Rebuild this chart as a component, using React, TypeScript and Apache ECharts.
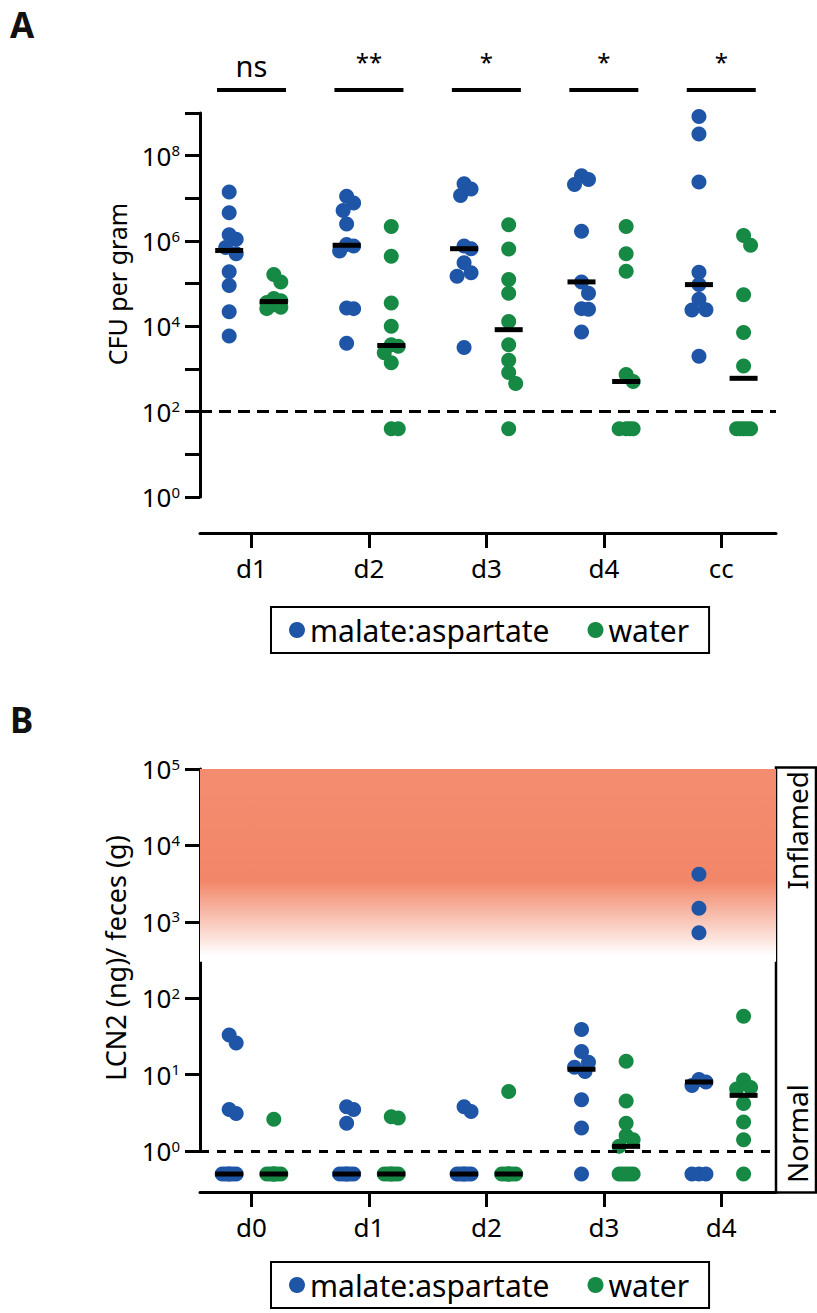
import React, { useEffect, useRef } from 'react';
import * as echarts from 'echarts';

// ---------- data ----------
const GROUPS_A = ['d1', 'd2', 'd3', 'd4', 'cc'];
const SIG_A = ['ns', '**', '*', '*', '*'];
// CFU per gram, malate:aspartate (40 = below detection)
const A_MALATE = [
  [1.4e7, 4.6e6, 1.4e6, 1.1e6, 7.0e5, 5.0e5, 1.9e5, 9.1e4, 2.2e4, 5.9e3],
  [1.12e7, 7.8e6, 5.2e6, 2.5e6, 8.3e5, 7.6e5, 5.8e5, 2.7e4, 2.6e4, 4.0e3],
  [2.2e7, 1.66e7, 1.17e7, 7.6e5, 6.6e5, 3.1e5, 1.8e5, 1.5e5, 3.2e3],
  [3.4e7, 2.75e7, 2.1e7, 1.7e6, 1.1e5, 6.0e4, 2.6e4, 2.5e4, 7.4e3],
  [8.3e8, 3.2e8, 2.4e7, 1.86e5, 9.5e4, 4.3e4, 2.45e4, 2.4e4, 2.0e3],
];
const A_WATER = [
  [1.65e5, 1.1e5, 4.5e4, 4.0e4, 3.6e4, 3.2e4, 2.8e4, 2.6e4],
  [2.2e6, 4.4e5, 3.5e4, 1.0e4, 3.7e3, 3.4e3, 2.4e3, 1.4e3, 40, 40],
  [2.4e6, 6.5e5, 1.26e5, 6.0e4, 1.3e4, 3.7e3, 1.6e3, 830, 460, 40],
  [2.2e6, 5.0e5, 1.95e5, 740, 510, 40, 40, 40, 40],
  [1.35e6, 8.0e5, 5.5e4, 7.2e3, 1.17e3, 40, 40, 40, 40, 40],
];
const A_LIMIT = 100;

const GROUPS_B = ['d0', 'd1', 'd2', 'd3', 'd4'];
// LCN2 (ng) / feces (g); 0.5 = below detection
const B_MALATE = [
  [33, 26, 3.5, 3.1, 0.5, 0.5, 0.5, 0.5, 0.5, 0.5],
  [3.8, 3.5, 2.3, 0.5, 0.5, 0.5, 0.5, 0.5, 0.5],
  [3.8, 3.3, 0.5, 0.5, 0.5, 0.5, 0.5, 0.5],
  [39, 20, 14.5, 12.5, 11, 4.7, 2.0, 0.5],
  [4200, 1500, 720, 8.6, 8.0, 7.2, 0.5, 0.5, 0.5],
];
const B_WATER = [
  [2.6, 0.5, 0.5, 0.5, 0.5, 0.5, 0.5, 0.5],
  [2.8, 2.7, 0.5, 0.5, 0.5, 0.5, 0.5, 0.5],
  [6.0, 0.5, 0.5, 0.5, 0.5, 0.5, 0.5, 0.5],
  [15, 4.5, 2.3, 1.6, 1.4, 1.15, 0.5, 0.5, 0.5, 0.5, 0.5],
  [58, 8.5, 6.8, 6.5, 4.2, 2.4, 1.4, 0.5],
];
const B_LIMIT = 1;
const INFLAMED_TOP = 1e5;
const INFLAMED_FADE_END = 300;

// ---------- style ----------
const FONT = "'Noto Sans', 'DejaVu Sans', sans-serif";
const BLUE = '#1F55A6';
const GREEN = '#168944';
const X_MIN = -0.4385;
const X_MAX = 4.466;
const OFF = 0.19;
const TICKS = [0, 1, 2, 3, 4];

function median(vals: number[]): number {
  const s = [...vals].sort((a, b) => a - b);
  const n = s.length;
  return n % 2 ? s[(n - 1) / 2] : (s[n / 2 - 1] + s[n / 2]) / 2;
}

function rawPoints(groups: number[][], off: number): number[][] {
  const out: number[][] = [];
  groups.forEach((vals, gi) => vals.forEach((v) => out.push([gi + off, v])));
  return out;
}

const CANDS = [0, 3.5, -3.5, 7, -7];
const MIN_DIST = 12;

function swarm(chart: any, gridIndex: number, groups: number[][], off: number): number[][] {
  const a = chart.convertToPixel({ gridIndex }, [0, 10]);
  const b = chart.convertToPixel({ gridIndex }, [1, 10]);
  const unit = b[0] - a[0];
  const out: number[][] = [];
  groups.forEach((vals, gi) => {
    const sorted = [...vals].sort((p, q) => q - p);
    const placed: { x: number; y: number }[] = [];
    sorted.forEach((v) => {
      const py = chart.convertToPixel({ gridIndex }, [gi + off, v])[1];
      let best = 0;
      let bestD = -1;
      for (const c of CANDS) {
        let md = Infinity;
        for (const p of placed) md = Math.min(md, Math.hypot(p.x - c, p.y - py));
        if (md >= MIN_DIST) {
          best = c;
          bestD = md;
          break;
        }
        if (md > bestD) {
          bestD = md;
          best = c;
        }
      }
      placed.push({ x: best, y: py });
      out.push([gi + off + best / unit, v]);
    });
  });
  return out;
}

function xAxisCfg(gridIndex: number, names: string[], offset: number) {
  return {
    gridIndex,
    type: 'value',
    min: X_MIN,
    max: X_MAX,
    offset,
    position: 'bottom',
    axisLine: { show: true, onZero: false, lineStyle: { color: '#000', width: 3 } },
    axisTick: { show: true, customValues: TICKS, length: 15, lineStyle: { color: '#000', width: 3 } },
    axisLabel: {
      show: true,
      customValues: TICKS,
      formatter: (v: number) => names[Math.round(v)] ?? '',
      fontSize: 26,
      fontFamily: FONT,
      color: '#000',
      margin: 22,
    },
    splitLine: { show: false },
  };
}

function yAxisCfg(gridIndex: number, max: number, split: number, evenOnly: boolean) {
  return {
    gridIndex,
    type: 'log',
    logBase: 10,
    min: 1,
    max,
    splitNumber: split,
    axisLine: { show: true, onZero: false, lineStyle: { color: '#000', width: 3 } },
    axisTick: { show: true, length: 15, lineStyle: { color: '#000', width: 3 } },
    axisLabel: {
      show: true,
      margin: 20,
      formatter: (v: number) => {
        const e = Math.round(Math.log10(v));
        if (evenOnly && e % 2 !== 0) return '';
        return `{b|10}{s|${e}}`;
      },
      rich: {
        b: { fontSize: 26, fontFamily: FONT, color: '#000' },
        s: { fontSize: 15, fontFamily: FONT, color: '#000', verticalAlign: 'top' },
      },
    },
    splitLine: { show: false },
  };
}

function pointSeries(id: string, name: string, color: string, xi: number, data: number[][]) {
  return {
    id,
    name,
    type: 'scatter',
    xAxisIndex: xi,
    yAxisIndex: xi,
    data,
    symbol: 'circle',
    symbolSize: 15,
    itemStyle: { color, opacity: 1 },
    clip: false,
    silent: true,
    z: 3,
    emphasis: { disabled: true },
  };
}

function medianSeries(id: string, xi: number, a: number[][], b: number[][], extra: any = {}) {
  const data: number[][] = [];
  a.forEach((vals, gi) => data.push([gi - OFF, median(vals)]));
  b.forEach((vals, gi) => data.push([gi + OFF, median(vals)]));
  return {
    id,
    name: 'median',
    type: 'scatter',
    xAxisIndex: xi,
    yAxisIndex: xi,
    data,
    symbol: 'rect',
    symbolSize: [28, 5],
    itemStyle: { color: '#000', opacity: 1 },
    clip: false,
    silent: true,
    z: 5,
    emphasis: { disabled: true },
    ...extra,
  };
}

function legendCfg(top: number) {
  return {
    data: [{ name: 'malate:aspartate' }, { name: 'water' }],
    left: 271,
    top,
    orient: 'horizontal',
    icon: 'circle',
    itemWidth: 16,
    itemHeight: 16,
    itemGap: 38,
    selectedMode: false,
    borderColor: '#000',
    borderWidth: 2,
    borderRadius: 0,
    padding: [8, 20, 8, 18],
    textStyle: { fontSize: 30, fontFamily: FONT, color: '#000' },
  };
}

function dashed(value: number, dash: number[]) {
  return {
    silent: true,
    symbol: 'none',
    label: { show: false },
    lineStyle: { color: '#000', type: dash, width: 3, opacity: 1 },
    emphasis: { disabled: true },
    data: [{ yAxis: value }],
  };
}

function buildOption(aB: number[][], aG: number[][], bB: number[][], bG: number[][]) {
  return {
    animation: false,
    backgroundColor: '#ffffff',
    textStyle: { fontFamily: FONT },
    grid: [
      { left: 200, top: 113, width: 576, height: 384 },
      { left: 200, top: 30, width: 576, height: 70 },
      { left: 200, top: 769, width: 576, height: 382 },
    ],
    xAxis: [
      xAxisCfg(0, GROUPS_A, 36),
      { gridIndex: 1, type: 'value', min: X_MIN, max: X_MAX, show: false },
      xAxisCfg(2, GROUPS_B, 41),
    ],
    yAxis: [
      yAxisCfg(0, 1e9, 9, true),
      { gridIndex: 1, type: 'value', min: 0, max: 1, show: false },
      yAxisCfg(2, 1e5, 5, false),
    ],
    legend: [legendCfg(607), legendCfg(1262)],
    series: [
      {
        id: 'bBg',
        type: 'scatter',
        xAxisIndex: 2,
        yAxisIndex: 2,
        data: [],
        silent: true,
        z: 1,
        markArea: {
          silent: true,
          itemStyle: {
            opacity: 1,
            color: new echarts.graphic.LinearGradient(0, 0, 0, 1, [
              { offset: 0, color: 'rgb(244,141,112)' },
              { offset: 0.58, color: 'rgb(242,134,104)' },
              { offset: 0.97, color: '#ffffff' },
              { offset: 1, color: '#ffffff' },
            ]),
          },
          data: [[{ yAxis: INFLAMED_TOP }, { yAxis: INFLAMED_FADE_END }]],
        },
      },
      pointSeries('aBlue', 'malate:aspartate', BLUE, 0, aB),
      pointSeries('aGreen', 'water', GREEN, 0, aG),
      medianSeries('aMed', 0, A_MALATE, A_WATER, { markLine: dashed(A_LIMIT, [12, 7]) }),
      {
        id: 'sig',
        type: 'scatter',
        xAxisIndex: 1,
        yAxisIndex: 1,
        data: SIG_A.map((_, i) => [i, 0.143]),
        symbol: 'rect',
        symbolSize: [69, 4],
        itemStyle: { color: '#000', opacity: 1 },
        silent: true,
        emphasis: { disabled: true },
        label: {
          show: true,
          position: 'top',
          distance: 8,
          color: '#000',
          formatter: (p: any) => (SIG_A[p.dataIndex] === 'ns' ? '{n|ns}' : `{s|${SIG_A[p.dataIndex]}}`),
          rich: {
            n: { fontSize: 29, fontFamily: FONT, color: '#000' },
            s: { fontSize: 24, fontFamily: FONT, color: '#000', padding: [0, 0, 6, 0] },
          },
        },
      },
      pointSeries('bBlue', 'malate:aspartate', BLUE, 2, bB),
      pointSeries('bGreen', 'water', GREEN, 2, bG),
      medianSeries('bMed', 2, B_MALATE, B_WATER, { markLine: dashed(B_LIMIT, [9, 8]) }),
    ],
    graphic: [
      {
        type: 'text',
        x: 10,
        y: 24,
        style: { text: 'A', fontSize: 35, fontWeight: 'bold', fontFamily: FONT, fill: '#111', verticalAlign: 'middle', textVerticalAlign: 'middle' },
      },
      {
        type: 'text',
        x: 10,
        y: 719,
        style: { text: 'B', fontSize: 35, fontWeight: 'bold', fontFamily: FONT, fill: '#111', verticalAlign: 'middle', textVerticalAlign: 'middle' },
      },
      {
        type: 'text',
        x: 117,
        y: 284,
        rotation: Math.PI / 2,
        style: { text: 'CFU per gram', fontSize: 25, fontFamily: FONT, fill: '#000', align: 'center', textAlign: 'center', verticalAlign: 'middle', textVerticalAlign: 'middle' },
      },
      {
        type: 'text',
        x: 115,
        y: 958,
        rotation: Math.PI / 2,
        style: { text: 'LCN2 (ng)/ feces (g)', fontSize: 27, fontFamily: FONT, fill: '#000', align: 'center', textAlign: 'center', verticalAlign: 'middle', textVerticalAlign: 'middle' },
      },
      {
        type: 'rect',
        shape: { x: 776, y: 767.5, width: 40, height: 425 },
        style: { fill: 'none', stroke: '#000', lineWidth: 2.5 },
      },
      {
        type: 'text',
        x: 797,
        y: 771,
        rotation: Math.PI / 2,
        style: { text: 'Inflamed', fontSize: 28, fontFamily: FONT, fill: '#000', align: 'right', textAlign: 'right', verticalAlign: 'middle', textVerticalAlign: 'middle' },
      },
      {
        type: 'text',
        x: 797,
        y: 1183,
        rotation: Math.PI / 2,
        style: { text: 'Normal', fontSize: 28, fontFamily: FONT, fill: '#000', align: 'left', textAlign: 'left', verticalAlign: 'middle', textVerticalAlign: 'middle' },
      },
    ],
  };
}

export default function App() {
  const ref = useRef<HTMLDivElement>(null);
  useEffect(() => {
    if (!ref.current) return;
    const chart = echarts.init(ref.current, null, { renderer: 'svg' });
    chart.setOption(
      buildOption(
        rawPoints(A_MALATE, -OFF),
        rawPoints(A_WATER, OFF),
        rawPoints(B_MALATE, -OFF),
        rawPoints(B_WATER, OFF)
      ) as any
    );
    const opt = buildOption(
      swarm(chart, 0, A_MALATE, -OFF),
      swarm(chart, 0, A_WATER, OFF),
      swarm(chart, 2, B_MALATE, -OFF),
      swarm(chart, 2, B_WATER, OFF)
    );
    chart.setOption(opt as any, { notMerge: true });
    return () => chart.dispose();
  }, []);
  return (
    <div
      ref={ref}
      style={{ position: 'absolute', left: 0, top: 0, width: 817, height: 1313, background: '#fff' }}
    />
  );
}
